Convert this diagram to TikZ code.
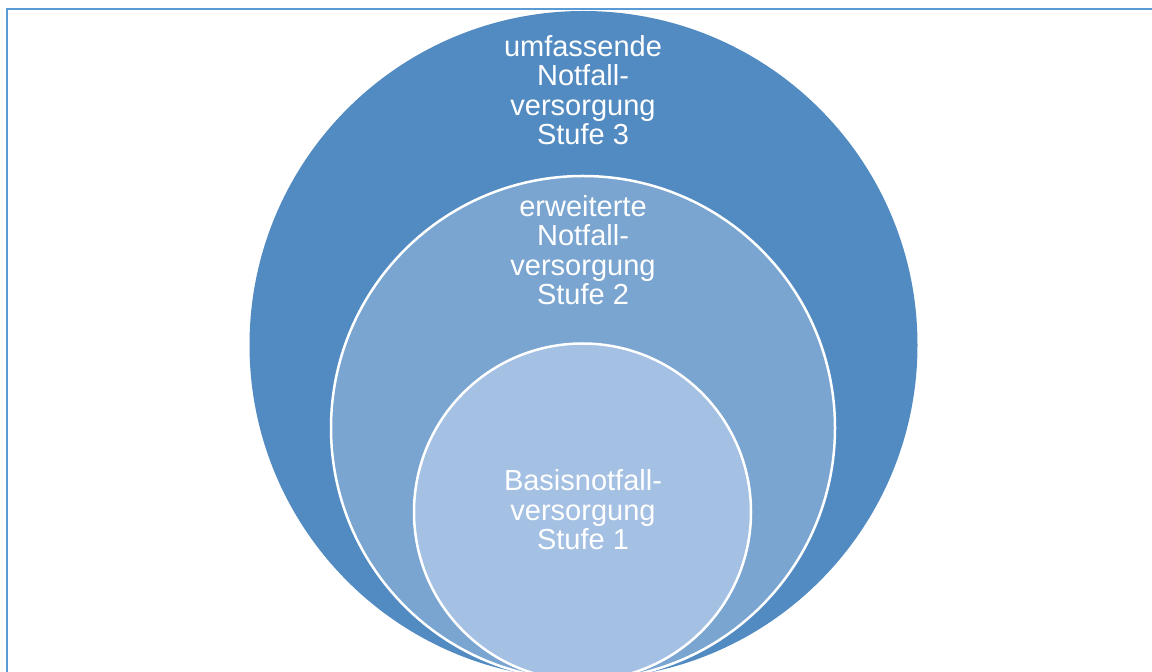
\documentclass[tikz,border=0pt]{standalone}
\usepackage{fontspec}
\setmainfont{Liberation Sans}
\definecolor{ringdark}{HTML}{528BC1}
\definecolor{ringmid}{HTML}{7AA5D0}
\definecolor{ringlight}{HTML}{A4C0E3}
\definecolor{framecol}{HTML}{5B9BD5}
\begin{document}
\begin{tikzpicture}[x=1pt,y=1pt,
  ring/.style={draw=white,line width=2.5pt},
  label/.style={text=white,align=center,anchor=base,inner sep=0pt,
    font=\fontsize{29pt}{29.5pt}\selectfont}]
  \useasboundingbox (0,0) rectangle (1152,672);
  \clip (0,0) rectangle (1152,672);
  \fill[white] (0,0) rectangle (1152,672);
  % frame edges
  \coordinate (fb) at (6.5,-5);
  \coordinate (fc) at (6.5,662.5);
  \coordinate (fr) at (1160,662.5);
  \draw[framecol,line width=2pt] (fb) -- (fc) -- (fr);
  % nested levels
  \fill[ringdark] (583.5,327) circle[radius=334];
  \filldraw[ring,fill=ringmid] (583,244) circle[radius=252];
  \filldraw[ring,fill=ringlight] (582.5,160) circle[radius=168.5];
  % level texts (anchored at the baseline of the last line)
  \node[label] (s3) at (583,527) {umfassende\\Notfall-\\versorgung\\Stufe 3};
  \node[label] (s2) at (583,367) {erweiterte\\Notfall-\\versorgung\\Stufe 2};
  \node[label] (s1) at (583,122) {Basisnotfall-\\versorgung\\Stufe 1};
\end{tikzpicture}
\end{document}
